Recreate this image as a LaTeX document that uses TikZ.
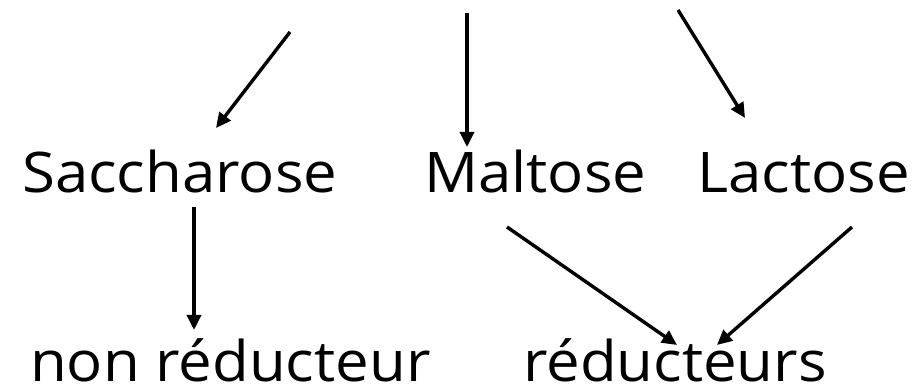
\documentclass[tikz,border=0pt]{standalone}
\usepackage{fontspec}
\setmainfont[FakeStretch=1.07]{Open Sans}
\usetikzlibrary{arrows.meta}
\begin{document}
\begin{tikzpicture}[x=1pt,y=1pt,
  lbl/.style={anchor=base west, inner sep=0pt, text depth=0pt, font=\fontsize{56}{60}\selectfont},
  arr/.style={line width=3.4pt, -{Triangle[length=15pt,width=14pt]}}]
\useasboundingbox (0,0) rectangle (922,390);
\node[lbl] (sac) at (22,197) {Saccharose};
\node[lbl] (mal) at (424,197) {Maltose};
\node[lbl] (lac) at (697,197) {Lactose};
\node[lbl] (nonred) at (30,8) {non réducteur};
\node[lbl] (red) at (523,8) {réducteurs};
\coordinate (s1) at (290,358);
\coordinate (e1) at (216,262);
\coordinate (s2) at (467,377);
\coordinate (e2) at (467,243);
\coordinate (s3) at (678,380);
\coordinate (e3) at (745,272);
\coordinate (s4) at (194,183);
\coordinate (e4) at (194,60);
\coordinate (s5) at (507,163);
\coordinate (e5) at (677,45);
\coordinate (s6) at (852,163);
\coordinate (e6) at (717,45);
\draw[arr] (s1) -- (e1);
\draw[arr] (s2) -- (e2);
\draw[arr] (s3) -- (e3);
\draw[arr] (s4) -- (e4);
\draw[arr] (s5) -- (e5);
\draw[arr] (s6) -- (e6);
\end{tikzpicture}
\end{document}
